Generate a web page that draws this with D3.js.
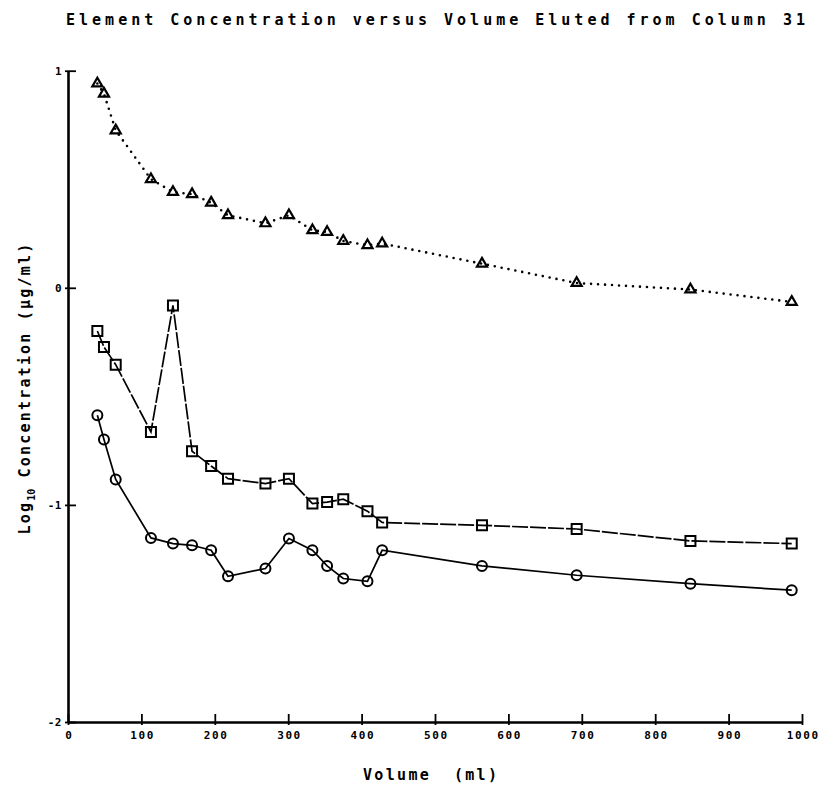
<!DOCTYPE html>
<html><head><meta charset="utf-8">
<script src="https://cdn.jsdelivr.net/npm/d3@7"></script>
<style>body{margin:0;background:#fff} svg{display:block}</style>
</head><body><svg id="chart" width="820" height="789"></svg>
<script>
// ---- data ----
const volumes = [40, 49, 65, 113, 143, 169, 195, 218, 269, 301, 333, 353, 375, 408, 428, 564, 693, 848, 986];
const triangleSeries = [0.941, 0.894, 0.725, 0.500, 0.441, 0.431, 0.392, 0.334, 0.297, 0.334, 0.265, 0.257, 0.216, 0.196, 0.204, 0.111, 0.022, -0.008, -0.065];
const squareSeries = [-0.199, -0.273, -0.354, -0.664, -0.081, -0.753, -0.821, -0.879, -0.902, -0.879, -0.994, -0.987, -0.974, -1.029, -1.081, -1.094, -1.111, -1.166, -1.178];
const circleSeries = [-0.587, -0.699, -0.883, -1.152, -1.178, -1.186, -1.209, -1.329, -1.293, -1.155, -1.209, -1.281, -1.339, -1.352, -1.209, -1.281, -1.324, -1.363, -1.393];
const xTickValues = [0, 100, 200, 300, 400, 500, 600, 700, 800, 900, 1000];
const yTickValues = [-2, -1, 0, 1];
const titleText = "Element Concentration versus Volume Eluted from Column 31";
const xLabelText = "Volume  (ml)";

// ---- layout ----
const svg = d3.select("#chart");
const x = d3.scaleLinear().domain([0, 1000]).range([68, 802]);
const y = d3.scaleLinear().domain([-2, 1]).range([722, 70.7]);
const mono = "'DejaVu Sans Mono', 'Liberation Mono', monospace";

// title
svg.append("text")
  .attr("x", 66).attr("y", 25)
  .attr("textLength", 739).attr("lengthAdjust", "spacing")
  .style("font-family", mono).style("font-size", "15px").style("font-weight", "bold").style("fill", "#000")
  .text(titleText);

// x axis
const gx = svg.append("g").attr("transform", `translate(0,${y(-2)})`)
  .call(d3.axisBottom(x).tickValues(xTickValues).tickSizeOuter(0).tickFormat(d => String(d)));
gx.select(".domain").attr("stroke-width", 2.6).attr("stroke", "#000");
gx.selectAll(".tick line").attr("y1", -8).attr("y2", 3).attr("stroke-width", 1.8);
gx.selectAll(".tick text").attr("y", 13).attr("dy", "0.35em")
  .style("font-family", mono).style("font-size", "11px").style("font-weight", "bold")
  .style("letter-spacing", "1.6px").attr("dx", "0.8px");

// y axis
const gy = svg.append("g").attr("transform", `translate(${x(0)},0)`)
  .call(d3.axisLeft(y).tickValues(yTickValues).tickSizeOuter(0).tickFormat(d => String(d)));
gy.select(".domain").attr("stroke-width", 2.6).attr("stroke", "#000");
gy.selectAll(".tick line").attr("x1", -3).attr("x2", 8).attr("stroke-width", 1.8);
gy.selectAll(".tick text").attr("x", -6).attr("dy", "0.35em")
  .style("font-family", mono).style("font-size", "11px").style("font-weight", "bold")
  .style("letter-spacing", "0.5px");

// axis labels
svg.append("text")
  .attr("x", 363).attr("y", 780)
  .attr("textLength", 134).attr("lengthAdjust", "spacing")
  .style("white-space", "pre")
  .style("font-family", mono).style("font-size", "15px").style("font-weight", "bold")
  .text(xLabelText);

const yl = svg.append("text")
  .attr("transform", "translate(30,388) rotate(-90)")
  .attr("text-anchor", "middle")
  .style("font-family", mono).style("font-size", "15px").style("font-weight", "bold").style("letter-spacing", "2.2px");
yl.append("tspan").text("Log");
yl.append("tspan").attr("dy", 5).style("font-size", "10px").style("letter-spacing", "0px").text("10");
yl.append("tspan").attr("dy", -5).text(" Concentration (\u03bcg/ml)");

// series
const pts = s => volumes.map((v, i) => [v, s[i]]);
const line = d3.line().x(d => x(d[0])).y(d => y(d[1]));

svg.append("path").datum(pts(triangleSeries)).attr("d", line)
  .attr("fill", "none").attr("stroke", "#000").attr("stroke-width", 2.6)
  .attr("stroke-linecap", "round").attr("stroke-dasharray", "0,7");
svg.append("path").datum(pts(squareSeries)).attr("d", line)
  .attr("fill", "none").attr("stroke", "#000").attr("stroke-width", 1.7)
  .attr("stroke-dasharray", "16,2");
svg.append("path").datum(pts(circleSeries)).attr("d", line)
  .attr("fill", "none").attr("stroke", "#000").attr("stroke-width", 1.7);

const sym = (type, size) => d3.symbol().type(type).size(size);
svg.append("g").selectAll("path").data(pts(triangleSeries)).join("path")
  .attr("transform", d => `translate(${x(d[0])},${y(d[1])})`)
  .attr("d", sym(d3.symbolTriangle, 44)).attr("fill", "none").attr("stroke", "#000").attr("stroke-width", 2.2);
svg.append("g").selectAll("path").data(pts(squareSeries)).join("path")
  .attr("transform", d => `translate(${x(d[0])},${y(d[1])})`)
  .attr("d", sym(d3.symbolSquare, 100)).attr("fill", "none").attr("stroke", "#000").attr("stroke-width", 2);
svg.append("g").selectAll("circle").data(pts(circleSeries)).join("circle")
  .attr("cx", d => x(d[0])).attr("cy", d => y(d[1])).attr("r", 5)
  .attr("fill", "none").attr("stroke", "#000").attr("stroke-width", 2);
</script>
</body></html>
